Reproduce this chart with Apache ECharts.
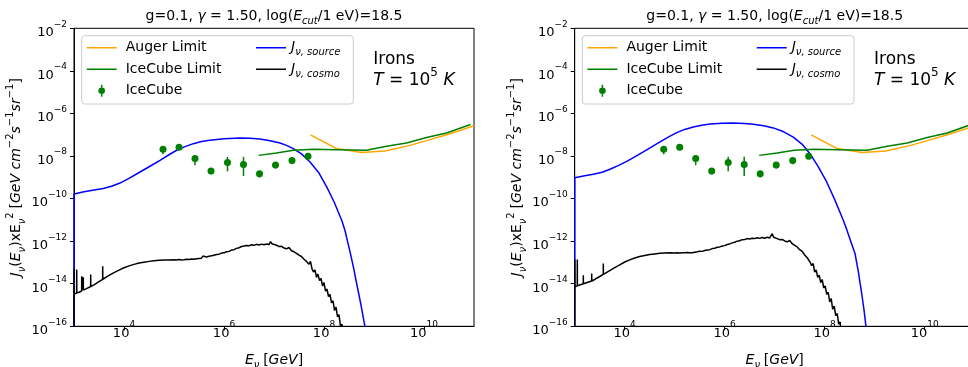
<!DOCTYPE html>
<html><head><meta charset="utf-8">
<script src="https://cdn.jsdelivr.net/npm/echarts@6/dist/echarts.min.js"></script>
<style>html,body{margin:0;padding:0;background:#fff}#c{width:968px;height:367px}</style>
</head><body><div id="c"></div>
<script>
const FONT = 'DejaVu Sans';
// tick exponents (log10 values)
const xTickExps = [4, 6, 8, 10];
const yTickExps = [-16, -14, -12, -10, -8, -6, -4, -2];

// IceCube data points: log10(E/GeV), log10(J*E^2) with error range
const icecubeLogE = [4.78, 5.10, 5.42, 5.74, 6.07, 6.39, 6.71, 7.03, 7.36, 7.68];
const icecubeLogJ = [-7.68, -7.59, -8.12, -8.70, -8.31, -8.40, -8.83, -8.42, -8.21, -8.01];
const icecubeLogJLow = [-7.92, -7.66, -8.43, -8.86, -8.72, -8.94, -9.01, -8.59, -8.39, -8.10];
const icecubeLogJHigh = [-7.54, -7.54, -7.96, -8.59, -8.04, -8.04, -8.72, -8.28, -8.09, -7.95];

// limits [log10 E, log10 J]
const augerLimit = [[7.73,-7.01],[8.25,-7.65],[8.75,-7.84],[9.22,-7.76],[9.72,-7.50],[10.12,-7.23],[10.52,-6.95],[11.0,-6.58]];
const icecubeLimit = [[6.69,-7.97],[7.05,-7.86],[7.39,-7.73],[7.79,-7.68],[8.25,-7.70],[8.85,-7.73],[9.25,-7.54],[9.65,-7.39],[10.05,-7.13],[10.45,-6.92],[10.93,-6.52]];

// J_nu,source, left panel and right panel
const sourceLeft = [[3.0,-20],[3.002,-9.78],[3.2,-9.68],[3.4,-9.6],[3.586,-9.53],[3.75,-9.42],[3.92,-9.27],[4.1,-9.05],[4.32,-8.75],[4.52,-8.48],[4.72,-8.2],[4.9,-7.94],[5.054,-7.73],[5.22,-7.56],[5.386,-7.42],[5.55,-7.32],[5.72,-7.26],[6.0,-7.19],[6.32,-7.15],[6.52,-7.16],[6.72,-7.2],[6.92,-7.28],[7.12,-7.39],[7.25,-7.5],[7.386,-7.65],[7.55,-7.9],[7.72,-8.28],[7.9,-8.8],[8.054,-9.45],[8.2,-10.15],[8.354,-11.02],[8.42,-11.5],[8.47,-12.0],[8.53,-12.6],[8.586,-13.2],[8.654,-14.0],[8.74,-15.0],[8.82,-16.03],[8.85,-16.5]];
const sourceRight = [[3.0,-20],[3.002,-9.02],[3.2,-8.93],[3.372,-8.86],[3.55,-8.76],[3.706,-8.62],[3.87,-8.45],[4.04,-8.25],[4.2,-8.04],[4.372,-7.81],[4.54,-7.57],[4.706,-7.34],[4.87,-7.11],[5.04,-6.90],[5.2,-6.75],[5.372,-6.64],[5.54,-6.55],[5.706,-6.50],[5.95,-6.46],[6.172,-6.45],[6.4,-6.47],[6.572,-6.51],[6.78,-6.58],[6.972,-6.68],[7.17,-6.85],[7.372,-7.11],[7.55,-7.45],[7.706,-7.89],[7.87,-8.5],[8.04,-9.22],[8.2,-10.05],[8.372,-11.02],[8.44,-11.45],[8.52,-12.0],[8.606,-12.58],[8.67,-13.4],[8.74,-14.46],[8.79,-15.3],[8.826,-16.03],[8.85,-16.5]];

// J_nu,cosmo, left panel and right panel
const cosmoLeft = [[3.0,-20],[3.001,-13.3],[3.004,-14.48],[3.03,-14.46],[3.053,-14.44],[3.054,-13.33],[3.056,-14.43],[3.1,-14.4],[3.153,-14.34],[3.154,-13.65],[3.156,-14.33],[3.185,-14.3],[3.186,-13.7],[3.188,-14.3],[3.25,-14.23],[3.333,-14.13],[3.334,-13.57],[3.336,-14.13],[3.4,-14.05],[3.5,-13.9],[3.573,-13.79],[3.574,-13.18],[3.576,-13.79],[3.7,-13.61],[3.8,-13.48],[3.9,-13.36],[4.0,-13.25],[4.1,-13.16],[4.2,-13.09],[4.3,-13.03],[4.4,-12.99],[4.5,-12.95],[4.6,-12.92],[4.7,-12.9],[4.8,-12.89],[4.9,-12.88],
[5.00,-12.87],[5.05,-12.88],[5.10,-12.86],[5.15,-12.88],[5.20,-12.87],[5.25,-12.85],[5.30,-12.86],[5.35,-12.84],[5.40,-12.85],[5.45,-12.83],[5.50,-12.81],[5.55,-12.80],[5.58,-12.70],[5.60,-12.77],[5.65,-12.74],[5.70,-12.71],[5.75,-12.69],[5.80,-12.66],[5.85,-12.63],[5.90,-12.61],[5.95,-12.56],[6.00,-12.55],[6.05,-12.50],[6.10,-12.48],[6.15,-12.42],[6.20,-12.40],[6.25,-12.34],[6.30,-12.31],[6.35,-12.25],[6.40,-12.23],[6.45,-12.20],[6.50,-12.22],[6.55,-12.17],[6.60,-12.19],[6.65,-12.15],[6.70,-12.18],[6.75,-12.14],[6.80,-12.17],[6.85,-12.13],[6.90,-12.16],[6.93,-12.02],[6.96,-12.12],[7.00,-12.17],[7.05,-12.19],[7.10,-12.25],[7.15,-12.24],[7.20,-12.32],[7.25,-12.36],[7.30,-12.30],[7.35,-12.45],[7.40,-12.50],[7.45,-12.57],[7.50,-12.66],[7.55,-12.72],[7.60,-12.85],[7.65,-12.95],[7.70,-13.08],[7.73,-12.95],[7.76,-13.30],[7.79,-13.45],[7.82,-13.35],[7.85,-13.70],[7.88,-13.55],[7.91,-13.85],[7.94,-13.75],[7.97,-14.10],[8.00,-13.95],[8.03,-14.35],[8.06,-14.25],[8.09,-14.60],[8.12,-14.50],[8.15,-14.90],[8.18,-14.80],[8.21,-15.25],[8.24,-15.10],[8.27,-15.55],[8.30,-15.45],[8.33,-16.0],[8.36,-15.9],[8.38,-16.6]];
const cosmoRight = [[3.0,-20],[3.001,-12.86],[3.004,-14.15],[3.03,-14.12],[3.051,-14.1],[3.052,-12.86],[3.054,-14.1],[3.1,-14.06],[3.171,-14.0],[3.172,-13.6],[3.174,-14.0],[3.25,-13.94],[3.339,-13.87],[3.34,-13.52],[3.342,-13.87],[3.4,-13.80],[3.5,-13.66],[3.571,-13.56],[3.572,-13.05],[3.574,-13.56],[3.7,-13.38],[3.8,-13.24],[3.9,-13.11],[4.0,-12.98],[4.1,-12.88],[4.2,-12.79],[4.3,-12.72],[4.4,-12.67],[4.5,-12.63],[4.6,-12.60],[4.7,-12.57],[4.8,-12.56],[4.9,-12.55],
[5.00,-12.56],[5.05,-12.55],[5.10,-12.56],[5.15,-12.54],[5.20,-12.55],[5.25,-12.53],[5.30,-12.55],[5.35,-12.54],[5.40,-12.52],[5.45,-12.50],[5.50,-12.47],[5.55,-12.48],[5.60,-12.44],[5.65,-12.42],[5.70,-12.40],[5.75,-12.35],[5.80,-12.33],[5.85,-12.29],[5.90,-12.27],[5.95,-12.23],[6.00,-12.21],[6.05,-12.16],[6.10,-12.13],[6.15,-12.08],[6.20,-12.05],[6.25,-12.00],[6.30,-11.98],[6.35,-11.93],[6.40,-11.92],[6.45,-11.88],[6.50,-11.90],[6.55,-11.86],[6.60,-11.88],[6.65,-11.84],[6.70,-11.87],[6.75,-11.83],[6.80,-11.86],[6.85,-11.82],[6.90,-11.85],[6.95,-11.65],[6.98,-11.82],[7.00,-11.86],[7.05,-11.88],[7.10,-11.93],[7.15,-11.92],[7.20,-11.99],[7.25,-12.03],[7.30,-11.97],[7.35,-12.12],[7.40,-12.20],[7.45,-12.27],[7.50,-12.40],[7.55,-12.48],[7.60,-12.65],[7.65,-12.78],[7.68,-12.70],[7.71,-13.00],[7.74,-13.15],[7.77,-13.05],[7.80,-13.45],[7.83,-13.35],[7.86,-13.70],[7.89,-13.60],[7.92,-13.95],[7.95,-13.80],[7.98,-14.20],[8.01,-14.10],[8.04,-14.50],[8.07,-14.40],[8.10,-14.85],[8.13,-14.70],[8.16,-15.20],[8.19,-15.05],[8.22,-15.50],[8.25,-15.40],[8.28,-15.90],[8.31,-15.80],[8.33,-16.6]];

const panels = [
  { left: 74, source: sourceLeft, cosmo: cosmoLeft },
  { left: 574.7, source: sourceRight, cosmo: cosmoRight }
];
const GRID_TOP = 28.3, GRID_W = 400, GRID_H = 298;

const ERR_ICON = 'path://M0,0h0.01v0.01h-0.01z M29.99,13.99h0.01v0.01h-0.01z M14.3,1h1.4v12h-1.4z M18.3,7a3.3,3.3 0 1 1 -6.6,0a3.3,3.3 0 1 1 6.6,0z';
const LINE_ICON = 'path://M0,0h0.01v0.01h-0.01z M29.99,13.99h0.01v0.01h-0.01z M0,6.2h30v1.6h-30z';

const tickRich = {
  b: { fontFamily: FONT, fontSize: 13, color: '#000', lineHeight: 26 },
  s: { fontFamily: FONT, fontSize: 9, color: '#000', lineHeight: 9, verticalAlign: 'top' }
};
const mathRich = (size, lh) => ({
  r: { fontFamily: FONT, fontSize: size, color: '#000', lineHeight: lh },
  i: { fontFamily: FONT, fontSize: size, fontStyle: 'italic', color: '#000', lineHeight: lh },
  sub: { fontFamily: FONT, fontSize: Math.round(size * 0.7), fontStyle: 'italic', color: '#000', lineHeight: Math.round(size * 0.7), verticalAlign: 'bottom' },
  sup: { fontFamily: FONT, fontSize: Math.round(size * 0.7), color: '#000', lineHeight: Math.round(size * 0.7), verticalAlign: 'top' },
  g: { width: 4, lineHeight: lh }
});

const legendNames = {
  'J_source': '{i|J}{sub|ν, source}',
  'J_cosmo': '{i|J}{sub|ν, cosmo}'
};

const grids = [], xAxes = [], yAxes = [], series = [], legends = [], graphics = [];
panels.forEach((p, i) => {
  grids.push({ left: p.left, top: GRID_TOP, width: GRID_W, height: GRID_H, show: true, borderColor: '#000', borderWidth: 1, backgroundColor: 'transparent', containLabel: false, outerBoundsMode: 'none' });
  xAxes.push({
    gridIndex: i, type: 'value', min: 3, max: 11,
    axisLine: { show: true, onZero: false, lineStyle: { color: '#000', width: 1 } },
    axisTick: { show: true, customValues: xTickExps, length: 4, lineStyle: { color: '#000' } },
    axisLabel: { customValues: xTickExps, margin: -6, formatter: v => '{b|10}{s|' + v + '}', rich: tickRich },
    splitLine: { show: false },
    name: '{i|E}{sub|ν} {r|[}{i|GeV}{r|]}', nameLocation: 'middle', nameGap: 24,
    nameTextStyle: { rich: mathRich(14, 20) }
  });
  yAxes.push({
    gridIndex: i, type: 'value', min: -16, max: -2, interval: 2,
    axisLine: { show: true, onZero: false, lineStyle: { color: '#000', width: 1 } },
    axisTick: { show: true, length: 4, lineStyle: { color: '#000' } },
    axisLabel: { margin: 7, padding: [9, 0, 0, 0], formatter: v => '{b|10}{s|−' + (-v) + '}', rich: tickRich },
    splitLine: { show: false },
    name: '{i|J}{sub|ν}{r|(}{i|E}{sub|ν}{r|)xE}{sub|ν}{sup|2} {r|[}{i|GeV cm}{sup|−2}{i|s}{sup|−1}{i|sr}{sup|−1}{r|]}',
    nameLocation: 'middle', nameGap: 43, nameRotate: 90,
    nameTextStyle: { rich: mathRich(14, 22) }
  });
  const common = { xAxisIndex: i, yAxisIndex: i, animation: false };
  series.push(Object.assign({ type: 'line', name: 'Auger Limit', data: augerLimit, symbol: 'none', lineStyle: { color: '#FFA500', width: 1.5 }, itemStyle: { color: '#FFA500' }, z: 3 }, common));
  series.push(Object.assign({ type: 'line', name: 'IceCube Limit', data: icecubeLimit, symbol: 'none', lineStyle: { color: '#008000', width: 1.5 }, itemStyle: { color: '#008000' }, z: 3 }, common));
  series.push(Object.assign({ type: 'scatter', name: 'IceCube', data: icecubeLogE.map((e, k) => [e, icecubeLogJ[k]]), symbol: 'circle', symbolSize: 7, itemStyle: { color: '#008000', opacity: 1 }, z: 5 }, common));
  series.push(Object.assign({
    type: 'custom', name: 'IceCube', z: 4,
    data: icecubeLogE.map((e, k) => [e, icecubeLogJLow[k], icecubeLogJHigh[k]]),
    encode: { x: 0, y: [1, 2] },
    renderItem: (params, api) => {
      const a = api.coord([api.value(0), api.value(1)]);
      const b = api.coord([api.value(0), api.value(2)]);
      return { type: 'line', shape: { x1: a[0], y1: a[1], x2: b[0], y2: b[1] }, style: { stroke: '#008000', lineWidth: 1.5 } };
    }
  }, common));
  series.push(Object.assign({ type: 'line', name: 'J_source', data: p.source, symbol: 'none', lineStyle: { color: '#0000FF', width: 1.5 }, itemStyle: { color: '#0000FF' }, z: 2 }, common));
  series.push(Object.assign({ type: 'line', name: 'J_cosmo', data: p.cosmo, symbol: 'none', lineStyle: { color: '#000000', width: 1.5 }, itemStyle: { color: '#000000' }, z: 2 }, common));

  const dx = p.left - 74;
  const legendBase = {
    orient: 'vertical', top: 37.7, itemWidth: 30, itemHeight: 14, itemGap: 1.5, padding: 0,
    selectedMode: false, z: 10
  };
  legends.push(Object.assign({}, legendBase, {
    left: 86.7 + dx,
    data: [{ name: 'Auger Limit', icon: LINE_ICON }, { name: 'IceCube Limit', icon: LINE_ICON }, { name: 'IceCube', icon: ERR_ICON }],
    formatter: n => '{g| }{r|' + n + '}',
    textStyle: { fontFamily: FONT, fontSize: 14, color: '#000', lineHeight: 20, rich: mathRich(14, 20) }
  }));
  legends.push(Object.assign({}, legendBase, {
    left: 256 + dx,
    data: [{ name: 'J_source', icon: LINE_ICON }, { name: 'J_cosmo', icon: LINE_ICON }],
    formatter: n => legendNames[n] || n,
    textStyle: { fontFamily: FONT, fontSize: 14, color: '#000', lineHeight: 20, rich: mathRich(14, 20) }
  }));
  graphics.push({
    type: 'rect', z: 5, shape: { x: 81.7 + dx, y: 35.7, width: 271.6, height: 68.3, r: 3 },
    style: { fill: 'rgba(255,255,255,0.8)', stroke: '#cccccc', lineWidth: 1 }
  });
  graphics.push({
    type: 'text', z: 20, x: 74 + GRID_W / 2 + dx, y: 16,
    style: {
      text: '{r|g=0.1, }{i|γ}{r| = 1.50, log(}{i|E}{sub|cut}{r|/1 eV)=18.5}',
      rich: mathRich(14, 20), align: 'center', verticalAlign: 'middle'
    }
  });
  graphics.push({
    type: 'text', z: 20, x: 373.3 + dx, y: 59.3,
    style: { text: 'Irons', fontFamily: FONT, fontSize: 17, fill: '#000', align: 'left', verticalAlign: 'middle' }
  });
  graphics.push({
    type: 'text', z: 20, x: 373.3 + dx, y: 81,
    style: { text: '{i|T}{r| = 10}{sup|5}{r| }{i|K}', rich: mathRich(17, 28), align: 'left', verticalAlign: 'middle' }
  });
});

const chart = echarts.init(document.getElementById('c'), null, { renderer: 'canvas' });
chart.setOption({
  animation: false,
  backgroundColor: '#ffffff',
  textStyle: { fontFamily: FONT },
  grid: grids, xAxis: xAxes, yAxis: yAxes, series: series, legend: legends,
  graphic: { elements: graphics }
});
</script></body></html>
